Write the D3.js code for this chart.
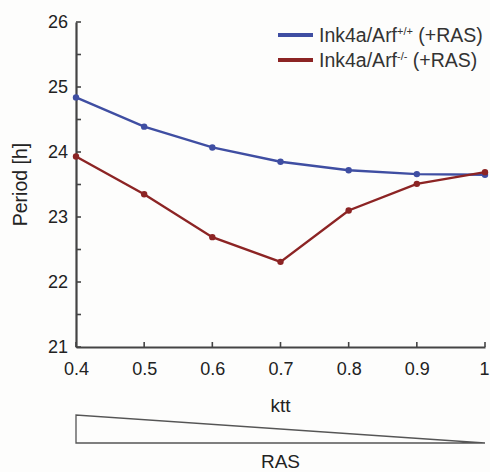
<!DOCTYPE html>
<html><head><meta charset="utf-8">
<script src="https://cdn.jsdelivr.net/npm/d3@7"></script>
<style>body{margin:0;background:#fdfdfc;}svg{display:block;font-family:Arial,"Liberation Sans",sans-serif;}</style>
</head><body><div id="chart"></div>
<script>
const ktt = [0.4, 0.5, 0.6, 0.7, 0.8, 0.9, 1.0];
const wildType = [24.84, 24.39, 24.07, 23.85, 23.72, 23.66, 23.65];
const knockout = [23.93, 23.35, 22.69, 22.31, 23.10, 23.51, 23.69];
const xTicks = [0.4, 0.5, 0.6, 0.7, 0.8, 0.9, 1.0];
const xTickLabels = ["0.4", "0.5", "0.6", "0.7", "0.8", "0.9", "1"];
const yTicks = [21, 22, 23, 24, 25, 26];
const yMinorTicks = [21.5, 22.5, 23.5, 24.5, 25.5];
const seriesNames = ["Ink4a/Arf", "Ink4a/Arf"];
const seriesSups = ["+/+", "-/-"];
const seriesSuffix = " (+RAS)";
const colors = ["#3f4ea2", "#8c2424"];

const W = 490, H = 472;
const svg = d3.select("#chart").append("svg").attr("width", W).attr("height", H);
svg.append("rect").attr("width", W).attr("height", H).attr("fill", "#fdfdfc");

const x = d3.scaleLinear().domain([0.4, 1.0]).range([76, 485]);
const y = d3.scaleLinear().domain([21, 26]).range([347, 22]);
const axisColor = "#444";
const textColor = "#222";

// y axis
const yAxis = svg.append("g").attr("transform", `translate(${x(0.4)},0)`)
  .call(d3.axisLeft(y).tickValues(yTicks).tickSize(0).tickPadding(8).tickFormat(d3.format("d")));
yAxis.select(".domain").attr("stroke", axisColor).attr("stroke-width", 2.2);
yAxis.selectAll("text").attr("font-size", 18).attr("fill", textColor);
svg.append("g").selectAll("line").data(yTicks.concat(yMinorTicks)).join("line")
  .attr("x1", x(0.4)).attr("x2", x(0.4) + 5)
  .attr("y1", d => y(d)).attr("y2", d => y(d))
  .attr("stroke", axisColor).attr("stroke-width", 1.6);

// x axis
const xAxis = svg.append("g").attr("transform", `translate(0,${y(21)})`)
  .call(d3.axisBottom(x).tickValues(xTicks).tickSize(0).tickPadding(15)
    .tickFormat((d, i) => xTickLabels[i]));
xAxis.select(".domain").attr("stroke", axisColor).attr("stroke-width", 2.2);
xAxis.selectAll("text").attr("font-size", 18).attr("fill", textColor);
xAxis.selectAll(".tick:last-of-type text").attr("dx", -1);
svg.append("g").selectAll("line").data(xTicks).join("line")
  .attr("x1", d => x(d)).attr("x2", d => x(d))
  .attr("y1", y(21)).attr("y2", y(21) - 5)
  .attr("stroke", axisColor).attr("stroke-width", 1.6);

// lines
const series = [wildType, knockout];
series.forEach((vals, si) => {
  const pts = ktt.map((k, i) => [k, vals[i]]);
  svg.append("path").datum(pts)
    .attr("fill", "none").attr("stroke", colors[si]).attr("stroke-width", 2.4)
    .attr("d", d3.line().x(d => x(d[0])).y(d => y(d[1])));
  svg.append("g").selectAll("circle").data(pts).join("circle")
    .attr("cx", d => x(d[0])).attr("cy", d => y(d[1])).attr("r", 3.2)
    .attr("fill", colors[si]);
});

// legend
seriesNames.forEach((name, i) => {
  const ly = 35 + i * 25;
  svg.append("line").attr("x1", 278).attr("x2", 313).attr("y1", ly).attr("y2", ly)
    .attr("stroke", colors[i]).attr("stroke-width", 4);
  const t = svg.append("text").attr("x", 319).attr("y", ly + 6.5)
    .attr("font-size", 19.5).attr("fill", "#333");
  t.append("tspan").text(name);
  t.append("tspan").text(seriesSups[i]).attr("font-size", 11).attr("dy", -7);
  t.append("tspan").text(seriesSuffix).attr("dy", 7);
});

// axis labels
svg.append("text").attr("x", (x(0.4) + x(1)) / 2).attr("y", 412)
  .attr("text-anchor", "middle").attr("font-size", 19).attr("fill", textColor).text("ktt");
svg.append("text").attr("transform", `translate(27,${(y(21) + y(26)) / 2}) rotate(-90)`)
  .attr("text-anchor", "middle").attr("font-size", 19.5).attr("fill", textColor).text("Period [h]");

// RAS triangle
svg.append("path")
  .attr("d", `M${x(0.4)},415 L${x(0.4)},443 L${x(1)},443 Z`)
  .attr("fill", "none").attr("stroke", "#555").attr("stroke-width", 1.3);
svg.append("text").attr("x", (x(0.4) + x(1)) / 2).attr("y", 468)
  .attr("text-anchor", "middle").attr("font-size", 19).attr("fill", textColor).text("RAS");
</script></body></html>
